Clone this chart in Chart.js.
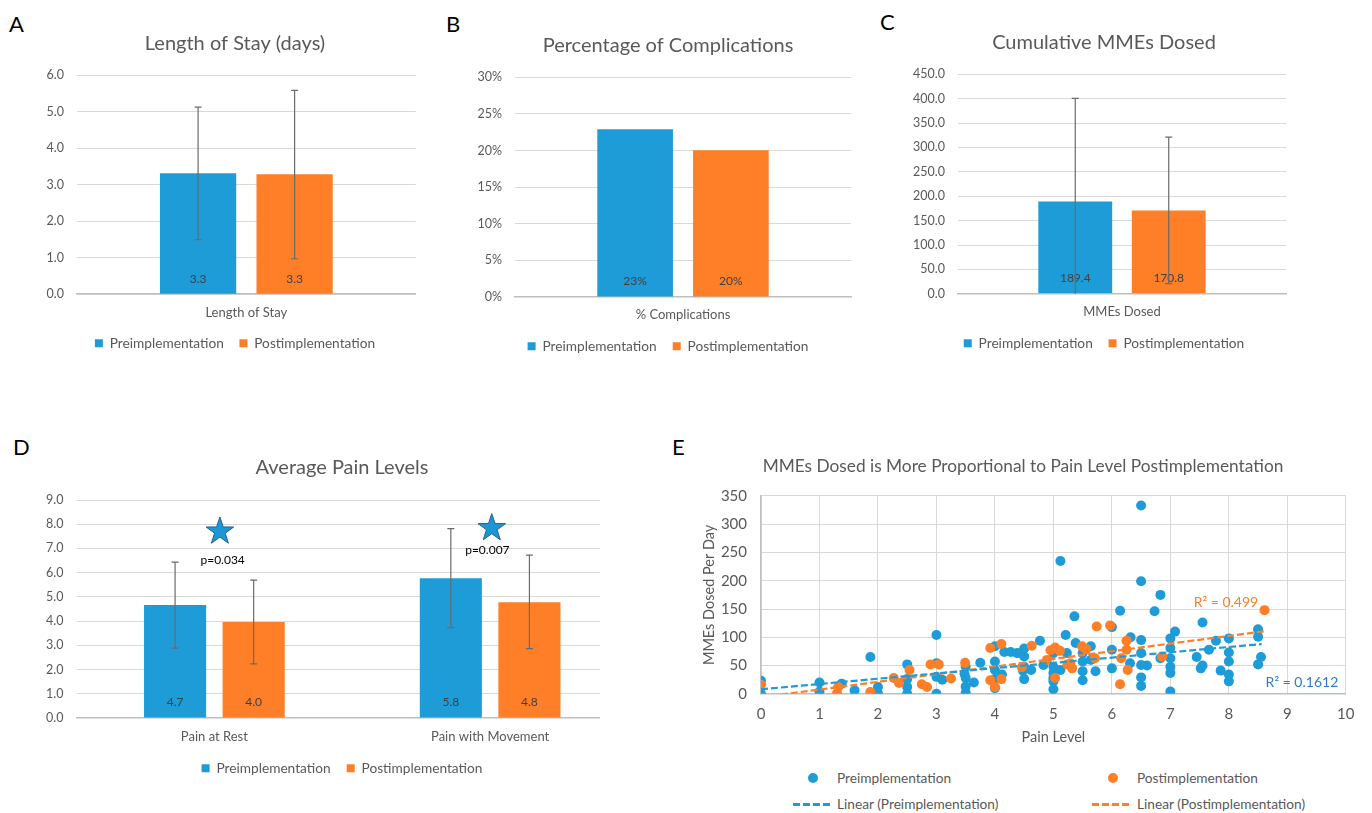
<!DOCTYPE html>
<html>
<head>
<meta charset="utf-8">
<script src="https://cdn.jsdelivr.net/npm/chart.js@4.4.1/dist/chart.umd.min.js"></script>
<style>
  body { margin: 0; background: #fff; width: 1372px; height: 813px; overflow: hidden; position: relative; font-family: Lato, "Open Sans", sans-serif; }
  canvas { position: absolute; }
  .letter { position: absolute; font-size: 22px; line-height: 22px; color: #000; }
  .clip { position: absolute; overflow: hidden; }
  .lg { position: absolute; }
  .lgText { position: absolute; font-size: 13.7px; line-height: 16px; color: #595959; white-space: nowrap; }
  .dash { position: absolute; height: 2.5px; }
</style>
</head>
<body>
<div class="letter" style="left:9px;top:13px">A</div>
<div class="letter" style="left:446px;top:13px">B</div>
<div class="letter" style="left:880px;top:11px">C</div>
<div class="letter" style="left:13px;top:436px">D</div>
<div class="letter" style="left:672px;top:436px">E</div>

<canvas id="chartA" width="414" height="360" style="left:28px;top:0px"></canvas>
<canvas id="chartB" width="420" height="363" style="left:458px;top:0px"></canvas>
<canvas id="chartC" width="412" height="360" style="left:898px;top:0px"></canvas>
<div class="clip" style="left:0px;top:430px;width:600px;height:383px">
  <canvas id="chartD" width="636" height="355" style="left:24px;top:0px"></canvas>
</div>
<canvas id="chartE" width="686" height="306" style="left:680px;top:440px"></canvas>

<!-- legend for E -->
<div class="lg" style="left:807.5px;top:772.5px;width:10px;height:10px;border-radius:50%;background:#1e9cd8"></div>
<div class="lgText" style="left:837px;top:770px">Preimplementation</div>
<div class="lg" style="left:1107.5px;top:772.5px;width:10px;height:10px;border-radius:50%;background:#fe7f27"></div>
<div class="lgText" style="left:1137px;top:770px">Postimplementation</div>
<div class="dash" style="left:793px;top:803px;width:37px;background:repeating-linear-gradient(to right,#1e9cd8 0 7px,transparent 7px 10px)"></div>
<div class="lgText" style="left:837px;top:796px">Linear (Preimplementation)</div>
<div class="dash" style="left:1092px;top:803px;width:40px;background:repeating-linear-gradient(to right,#fe7f27 0 7px,transparent 7px 10px)"></div>
<div class="lgText" style="left:1137px;top:796px">Linear (Postimplementation)</div>

<script>
// ---------- data ----------
// A: length of stay (days)
const losLabels = ['Length of Stay'];
const losPre = [3.31];
const losPost = [3.28];
const losPreErr = [[1.49, 5.12]];
const losPostErr = [[0.97, 5.58]];

// B: complications
const compLabels = ['% Complications'];
const compPre = [0.229];
const compPost = [0.2005];

// C: cumulative MMEs
const mmeLabels = ['MMEs Dosed'];
const mmePre = [189.4];
const mmePost = [170.8];
const mmePreErr = [[-22, 400.7]];
const mmePostErr = [[21, 321]];

// D: pain levels
const painLabels = ['Pain at Rest', 'Pain with Movement'];
const painPre = [4.66, 5.77];
const painPost = [3.96, 4.78];
const painPreErr = [[2.88, 6.43], [3.73, 7.82]];
const painPostErr = [[2.23, 5.69], [2.86, 6.72]];
const starPos = [{ x: 0.02, y: 7.70 }, { x: 1.006, y: 7.84 }];
const pValues = ['p=0.034', 'p=0.007'];
const pPos = [{ x: 0.03, y: 6.52 }, { x: 0.99, y: 6.91 }];

// E: pain level vs MMEs per day
const preX = [0, 0, 1, 1, 1.38, 1.6, 1.87, 2, 2, 2.5, 2.5, 2.5, 2.5, 3, 3, 3, 3, 3.1, 3.48,
  3.5, 3.5, 3.5, 3.5, 3.64, 3.75, 4, 4, 4, 4, 4, 4.12, 4.16, 4.27, 4.38, 4.5, 4.5, 4.5, 4.5,
  4.48, 4.62, 4.77, 4.83, 5, 5, 5, 5, 5, 5, 5.12, 5.12, 5.21, 5.23, 5.36, 5.38, 5.5, 5.5, 5.5,
  5.5, 5.64, 5.64, 5.72, 6, 6, 6, 6.14, 6.31, 6.32, 6.5, 6.5, 6.5, 6.5, 6.5, 6.5, 6.5, 6.6,
  6.73, 6.83, 6.83, 7, 7, 7, 7, 7, 7, 7.08, 7.45, 7.52, 7.55, 7.55, 7.66, 7.78, 7.86, 8, 8, 8,
  8, 8, 8.5, 8.5, 8.55, 8.5];
const preY = [23, 0, 20, 4, 18, 6, 65, 12, 1, 52, 26, 12, 0, 104, 54, 30, 0, 25, 35,
  48, 28, 13, 2, 20, 55, 84, 57, 42, 26, 10, 34, 74, 74, 72, 80, 66, 48, 26,
  41, 42, 94, 51, 72, 48, 37, 28, 22, 8, 235, 42, 104, 72, 137, 90, 72, 57, 40,
  24, 84, 60, 40, 118, 78, 45, 147, 54, 100, 333, 199, 95, 72, 51, 29, 14, 50,
  146, 175, 63, 98, 81, 63, 48, 37, 4, 110, 65, 45, 126, 50, 78, 94, 41, 98, 73, 57,
  34, 22, 114, 101, 65, 52];
const postX = [0, 1.32, 1.3, 1.87, 2.27, 2.36, 2.54, 2.75, 2.84, 2.9, 3.04, 3.25, 3.49,
  3.92, 3.92, 4, 4.11, 4.11, 4.46, 4.63, 4.89, 4.95, 5.03, 5.03, 5.11, 5.24, 5.29, 5.32,
  5.49, 5.56, 5.71, 5.74, 5.97, 6.14, 6.16, 6.25, 6.25, 6.27, 6.86, 8.61];
const postY = [16, 12, 1, 3, 28, 19, 42, 17, 12, 52, 52, 27, 55,
  81, 24, 12, 88, 26, 47, 85, 60, 77, 82, 28, 76, 52, 54, 45,
  84, 79, 63, 119, 121, 17, 63, 94, 78, 42, 66, 148];
// trend line ends as drawn on the picture
const trendPreX = [0, 8.56];
const trendPreY = [8, 88];
const trendPostX = [0, 8.6];
const trendPostY = [-6, 110.5];
const r2Texts = ['R\u00b2 = 0.499', 'R\u00b2 = 0.1612'];
const r2Pos = [{ x: 7.95, y: 161.6 }, { x: 9.25, y: 19.5 }];

// ---------- styles ----------
const BLUE = '#1e9cd8';
const ORANGE = '#fe7f27';
const GRID = '#d9d9d9';
const AXIS = '#bfbfbf';
const TEXT = '#595959';
const FONT = 'Lato, "Open Sans", sans-serif';

Chart.defaults.font.family = FONT;
Chart.defaults.color = TEXT;
Chart.defaults.animation = false;

const fixed1 = v => Number(v).toFixed(1);
const pct = v => Math.round(v * 100) + '%';

function starPath(ctx, cx, cy, R, r) {
    ctx.beginPath();
    for (let k = 0; k < 10; k++) {
        const rad = k % 2 ? r : R;
        const a = -Math.PI / 2 + k * Math.PI / 5;
        ctx.lineTo(cx + rad * Math.cos(a), cy + rad * Math.sin(a));
    }
    ctx.closePath();
}

// labels in bars, error bars, stars and notes
function extras(cfg) {
    return {
        id: 'extras',
        afterDatasetsDraw(chart) {
            const ctx = chart.ctx;
            const area = chart.chartArea;
            const xs = chart.scales.x, ys = chart.scales.y;
            ctx.save();
            if (cfg.tick) {
                ctx.font = '12px ' + FONT;
                ctx.fillStyle = '#404040';
                ctx.textAlign = 'center';
                ctx.textBaseline = 'middle';
                chart.data.datasets.forEach((ds, i) => {
                    chart.getDatasetMeta(i).data.forEach((bar, j) => {
                        ctx.fillText(cfg.tick(ds.data[j]), bar.x, area.bottom - 15.5);
                    });
                });
            }
            ctx.save();
            ctx.beginPath();
            ctx.rect(area.left, area.top, area.width, area.height);
            ctx.clip();
            ctx.strokeStyle = '#6a6a6a';
            ctx.lineWidth = 1.2;
            [cfg.preErr, cfg.postErr].forEach((errs, i) => {
                if (!errs) return;
                chart.getDatasetMeta(i).data.forEach((bar, j) => {
                    const lo = ys.getPixelForValue(errs[j][0]);
                    const hi = ys.getPixelForValue(errs[j][1]);
                    ctx.beginPath();
                    ctx.moveTo(bar.x, lo); ctx.lineTo(bar.x, hi);
                    ctx.moveTo(bar.x - 3.5, lo); ctx.lineTo(bar.x + 3.5, lo);
                    ctx.moveTo(bar.x - 3.5, hi); ctx.lineTo(bar.x + 3.5, hi);
                    ctx.stroke();
                });
            });
            ctx.restore();
            (cfg.stars || []).forEach(s => {
                starPath(ctx, xs.getPixelForValue(s.x), ys.getPixelForValue(s.y), 14.5, 5.6);
                ctx.fillStyle = '#1d96d4';
                ctx.fill();
                ctx.strokeStyle = '#245f94';
                ctx.lineWidth = 1;
                ctx.stroke();
            });
            (cfg.notes || []).forEach(n => {
                ctx.font = n.font;
                ctx.fillStyle = n.color;
                ctx.textAlign = 'center';
                ctx.textBaseline = 'middle';
                ctx.fillText(n.text, xs.getPixelForValue(n.x), ys.getPixelForValue(n.y));
            });
            ctx.restore();
        }
    };
}

function barPanel(id, cfg) {
    return new Chart(document.getElementById(id), {
        type: 'bar',
        data: {
            labels: cfg.labels,
            datasets: [
                { label: 'Preimplementation', data: cfg.pre, backgroundColor: BLUE, borderWidth: 0 },
                { label: 'Postimplementation', data: cfg.post, backgroundColor: ORANGE, borderWidth: 0 }
            ]
        },
        options: {
            responsive: false,
            animation: false,
            layout: { padding: 0 },
            datasets: { bar: { categoryPercentage: 0.57, barPercentage: 0.79 } },
            scales: {
                x: {
                    grid: { display: false, drawTicks: false },
                    border: { color: AXIS, width: 1.5 },
                    ticks: { padding: cfg.xPad, font: { size: 13 }, color: TEXT },
                    afterFit: s => { s.height = cfg.xH; }
                },
                y: {
                    min: 0, max: cfg.max,
                    grid: { color: GRID, drawTicks: false },
                    border: { display: false },
                    ticks: { stepSize: cfg.step, padding: 13, font: { size: 12.5 }, color: TEXT, callback: v => cfg.tick(v) },
                    afterFit: s => { s.width = cfg.yW; }
                },
                // empty right-hand spacer so title and legend stay centred on the canvas
                ySpacer: {
                    type: 'linear', position: 'right',
                    grid: { display: false, drawTicks: false },
                    border: { display: false },
                    ticks: { display: false },
                    afterFit: s => { s.width = cfg.rW; }
                }
            },
            plugins: {
                title: {
                    display: true, text: cfg.title, color: TEXT,
                    font: { size: 20, weight: 'normal' },
                    padding: { top: cfg.tTop, bottom: cfg.tBot }
                },
                legend: {
                    position: 'bottom',
                    labels: { boxWidth: 8, boxHeight: 8, padding: cfg.legPad, font: { size: 13.7 }, color: TEXT }
                },
                tooltip: { enabled: false }
            }
        },
        plugins: [extras(cfg)]
    });
}

barPanel('chartA', {
    labels: losLabels, pre: losPre, post: losPost, preErr: losPreErr, postErr: losPostErr,
    title: 'Length of Stay (days)', max: 6, step: 1, tick: fixed1,
    yW: 49, rW: 26.3, tTop: 31.3, tBot: 19.7, xH: 26.6, xPad: 10.5, legPad: 15.5
});

barPanel('chartB', {
    labels: compLabels, pre: compPre, post: compPost,
    title: 'Percentage of Complications', max: 0.3, step: 0.05, tick: pct,
    yW: 57, rW: 27, tTop: 33.7, tBot: 19.6, xH: 26.3, xPad: 10.2, legPad: 16.1
});

barPanel('chartC', {
    labels: mmeLabels, pre: mmePre, post: mmePost, preErr: mmePreErr, postErr: mmePostErr,
    title: 'Cumulative MMEs Dosed', max: 450, step: 50, tick: fixed1,
    yW: 60, rW: 24, tTop: 30.3, tBot: 20, xH: 26.7, xPad: 10.6, legPad: 15.8
});

barPanel('chartD', {
    labels: painLabels, pre: painPre, post: painPost, preErr: painPreErr, postErr: painPostErr,
    title: 'Average Pain Levels', max: 9, step: 1, tick: fixed1,
    yW: 52.5, rW: 32, tTop: 25.7, tBot: 20.3, xH: 27.3, xPad: 11.2, legPad: 16.1,
    stars: starPos,
    notes: pValues.map((t, i) => ({ text: t, x: pPos[i].x, y: pPos[i].y, color: '#000', font: '12px ' + FONT }))
});

// E: scatter with trend lines
const toPts = (xs, ys) => xs.map((x, i) => ({ x: x, y: ys[i] }));

new Chart(document.getElementById('chartE'), {
    type: 'scatter',
    data: {
        datasets: [
            { label: 'Preimplementation', data: toPts(preX, preY), backgroundColor: BLUE, pointRadius: 5, pointBorderWidth: 0, order: 2 },
            { label: 'Postimplementation', data: toPts(postX, postY), backgroundColor: ORANGE, pointRadius: 5, pointBorderWidth: 0, order: 1 },
            { label: 'Linear (Preimplementation)', data: toPts(trendPreX, trendPreY), showLine: true, pointRadius: 0, borderColor: BLUE, borderWidth: 2.2, borderDash: [7, 3], order: 0 },
            { label: 'Linear (Postimplementation)', data: toPts(trendPostX, trendPostY), showLine: true, pointRadius: 0, borderColor: ORANGE, borderWidth: 2.2, borderDash: [7, 3], order: 0 }
        ]
    },
    options: {
        responsive: false,
        animation: false,
        layout: { padding: { left: 20, right: 20, top: 0, bottom: 0 } },
        scales: {
            x: {
                type: 'linear', min: 0, max: 10,
                grid: { color: GRID, drawTicks: false },
                border: { color: AXIS, width: 1.5 },
                ticks: { stepSize: 1, padding: 11.5, font: { size: 15 }, color: TEXT },
                title: { display: true, text: 'Pain Level', font: { size: 14.5 }, color: TEXT, padding: 0 },
                afterFit: s => { s.height = 52.2; }
            },
            y: {
                min: 0, max: 350,
                grid: { color: GRID, drawTicks: false },
                border: { color: AXIS, width: 1.5 },
                ticks: { stepSize: 50, padding: 14, font: { size: 15 }, color: TEXT },
                title: { display: true, text: 'MMEs Dosed Per Day', font: { size: 14.5 }, color: TEXT, padding: { top: 0.7, bottom: 0 } },
                afterFit: s => { s.width = 61; }
            }
        },
        plugins: {
            title: {
                display: true, text: 'MMEs Dosed is More Proportional to Pain Level Postimplementation',
                color: TEXT, font: { size: 17.3, weight: 'normal' },
                padding: { top: 15.6, bottom: 19.6 }
            },
            legend: { display: false },
            tooltip: { enabled: false }
        }
    },
    plugins: [extras({
        notes: [
            { text: r2Texts[0], x: r2Pos[0].x, y: r2Pos[0].y, color: ORANGE, font: '14px ' + FONT },
            { text: r2Texts[1], x: r2Pos[1].x, y: r2Pos[1].y, color: '#2c7fce', font: '14px ' + FONT }
        ]
    })]
});
</script>
</body>
</html>
